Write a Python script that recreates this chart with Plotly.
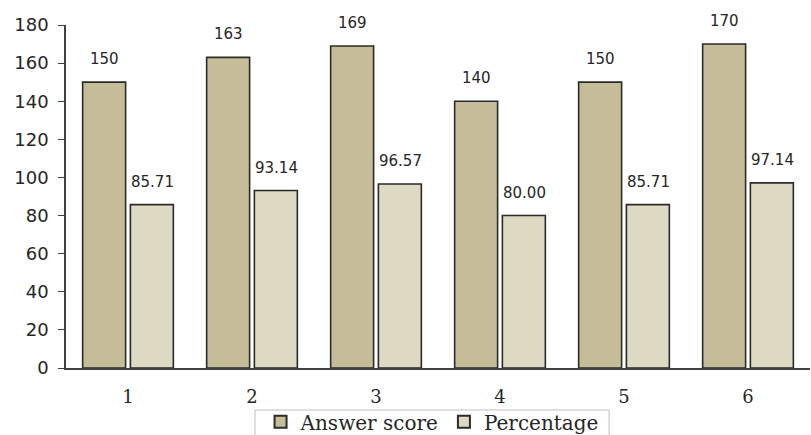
import plotly.graph_objects as go

categories = ["1", "2", "3", "4", "5", "6"]
answer_score = [150, 163, 169, 140, 150, 170]
percentage = [85.71, 93.14, 96.57, 80.00, 85.71, 97.14]
score_labels = ["150", "163", "169", "140", "150", "170"]
pct_labels = ["85.71", "93.14", "96.57", "80.00", "85.71", "97.14"]
y_ticks = [0, 20, 40, 60, 80, 100, 120, 140, 160, 180]

line = dict(color="#2b2b2b", width=1.6)
fig = go.Figure()
fig.add_trace(go.Bar(x=categories, y=answer_score, name="Answer score",
                     marker=dict(color="#C4BD97", line=line)))
fig.add_trace(go.Bar(x=categories, y=percentage, name="Percentage",
                     marker=dict(color="#DDD9C3", line=line)))

label_font = dict(family="DejaVu Sans", size=15, color="#262626")
for i, c in enumerate(categories):
    fig.add_annotation(x=i, y=answer_score[i], text=score_labels[i], showarrow=False,
                       xshift=-24, yshift=23, yanchor="middle", font=label_font)
    fig.add_annotation(x=i, y=percentage[i], text=pct_labels[i], showarrow=False,
                       xshift=24, yshift=23, yanchor="middle", font=label_font)

# legend frame (partly cut by the bottom edge, like the reference)
fig.add_shape(type="rect", xref="paper", yref="paper",
              x0=0.254, x1=0.730, y0=-0.1224, y1=-0.23,
              line=dict(color="#BFBFBF", width=1), fillcolor="rgba(0,0,0,0)")

fig.update_layout(
    width=811, height=435,
    margin=dict(l=66, r=1, t=25, b=67, autoexpand=False),
    paper_bgcolor="white", plot_bgcolor="white",
    barmode="group", bargap=0.23, bargroupgap=0.1,
    showlegend=True,
    legend=dict(orientation="h", x=0.492, xanchor="center", y=-0.1, yanchor="top",
                borderwidth=0, bgcolor="rgba(0,0,0,0)",
                font=dict(family="DejaVu Serif", size=20, color="#262626"),
                itemsizing="constant"),
)
fig.update_xaxes(type="category", range=[-0.5, 5.5], showline=True, linecolor="#404040",
                 linewidth=1.5, ticks="", showgrid=False, ticklabelstandoff=12,
                 tickfont=dict(family="DejaVu Serif", size=18, color="#262626"))
fig.update_yaxes(range=[0, 180], tickvals=y_ticks, showline=True, linecolor="#404040",
                 linewidth=1.5, ticks="outside", ticklen=6, tickcolor="#404040",
                 showgrid=False, zeroline=False, ticklabelstandoff=6,
                 tickfont=dict(family="DejaVu Sans", size=18, color="#262626"))

fig.write_html("out.html")
